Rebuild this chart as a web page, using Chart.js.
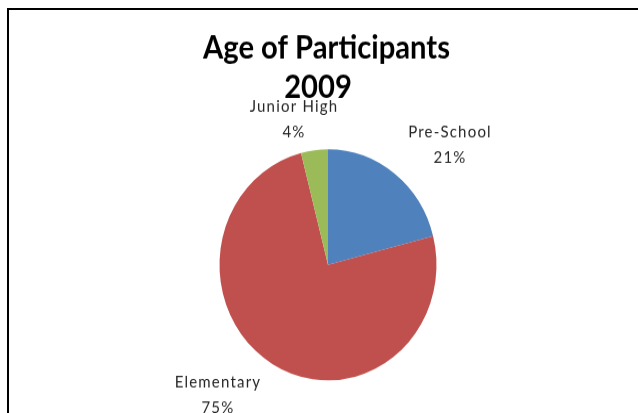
<!DOCTYPE html>
<html>
<head>
<meta charset="utf-8">
<script src="https://cdn.jsdelivr.net/npm/chart.js@4"></script>
<style>
  html, body { margin:0; padding:0; background:#fff; width:638px; height:413px; overflow:hidden; }
  #frame { position:absolute; left:7px; top:8px; width:640px; height:420px; border-top:2px solid #000; border-left:2px solid #000; box-sizing:border-box; }
  #wrap { position:absolute; left:0; top:0; width:638px; height:388px; transform:scaleY(1.0645); transform-origin:0 0; }
</style>
</head>
<body>
<div id="frame"></div>
<div id="wrap"><canvas id="c"></canvas></div>
<script>
const titleLines = ['Age of Participants', '2009'];
const categories = ['Pre-School', 'Elementary', 'Junior High'];
const values = [21, 75, 4];
const colors = ['#4F81BD', '#C0504D', '#9BBB59'];

const titlePlugin = {
  id: 'excelTitle',
  afterDraw(chart, args, opts) {
    const ctx = chart.ctx;
    ctx.save();
    ctx.fillStyle = '#000';
    ctx.textAlign = 'center';
    ctx.textBaseline = 'alphabetic';
    ctx.font = 'bold 30px Lato, sans-serif';
    const base = ctx.measureText(titleLines[0]).width;
    const sx = opts.width / base;
    titleLines.forEach((t, i) => {
      ctx.save();
      ctx.translate(opts.x[i], opts.baselines[i]);
      ctx.scale(sx, 1);
      ctx.fillText(t, 0, 0);
      ctx.restore();
    });
    ctx.restore();
  }
};

const labelPlugin = {
  id: 'pieLabels',
  afterDatasetsDraw(chart, args, opts) {
    const ctx = chart.ctx;
    const meta = chart.getDatasetMeta(0);
    const data = chart.data.datasets[0].data;
    const total = data.reduce((a, b) => a + b, 0);
    ctx.save();
    ctx.fillStyle = '#262626';
    ctx.textAlign = 'center';
    ctx.textBaseline = 'alphabetic';
    ctx.font = '15px Lato, sans-serif';
    ctx.letterSpacing = opts.letterSpacing;
    meta.data.forEach((arc, i) => {
      const p = arc.getProps(['x', 'y', 'startAngle', 'endAngle', 'outerRadius'], true);
      const mid = (p.startAngle + p.endAngle) / 2;
      const ax = p.x + Math.cos(mid) * p.outerRadius + opts.offsets[i][0];
      const ay = p.y + Math.sin(mid) * p.outerRadius + opts.offsets[i][1];
      const pct = Math.round(data[i] / total * 100) + '%';
      ctx.fillText(chart.data.labels[i], ax, ay);
      ctx.fillText(pct, ax, ay + opts.lineGap);
    });
    ctx.restore();
  }
};

new Chart(document.getElementById('c'), {
  type: 'pie',
  data: {
    labels: categories,
    datasets: [{ data: values, backgroundColor: colors, borderWidth: 0 }]
  },
  options: {
    responsive: true,
    maintainAspectRatio: false,
    animation: false,
    events: [],
    layout: { padding: { top: 140.3, bottom: 30.7, left: 219.5, right: 201.5 } },
    plugins: {
      legend: { display: false },
      title: { display: false },
      tooltip: { enabled: false },
      excelTitle: { x: [326.5, 318], baselines: [54.5, 92.1], width: 247 },
      pieLabels: {
        offsets: [[55.5, -33.7], [-54.8, 21.6], [-20.4, -36.3]],
        lineGap: 24,
        letterSpacing: '1.2px'
      }
    }
  },
  plugins: [titlePlugin, labelPlugin]
});
</script>
</body>
</html>
